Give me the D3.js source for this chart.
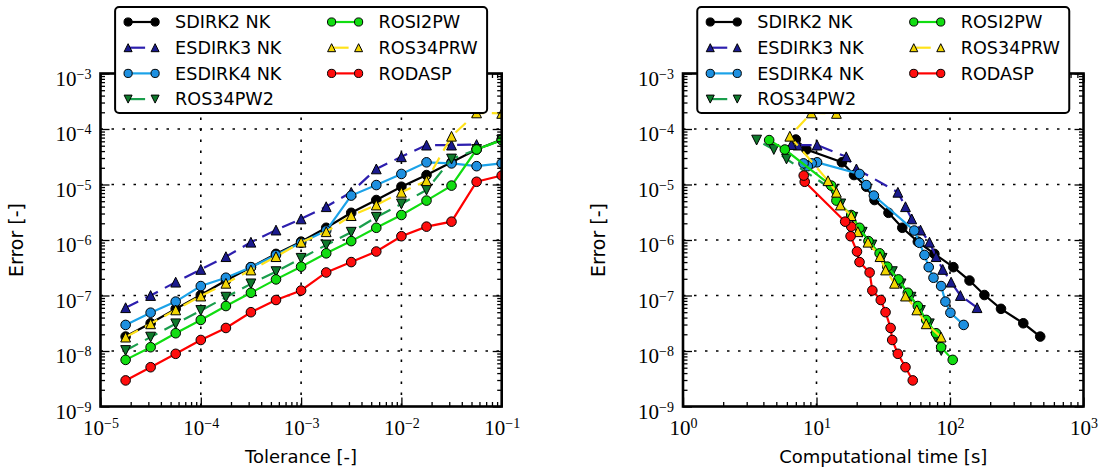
<!DOCTYPE html>
<html><head><meta charset="utf-8">
<script src="https://cdn.jsdelivr.net/npm/d3@7"></script>
<style>body{margin:0;background:#fff}</style>
</head><body><svg id="c" width="1104" height="473"></svg>
<script>
// ---------- DATA ----------
const seriesNames = ["SDIRK2 NK","ESDIRK3 NK","ESDIRK4 NK","ROS34PW2","ROSI2PW","ROS34PRW","RODASP"];
const tolerance = [1.78e-5,3.16e-5,5.62e-5,1e-4,1.78e-4,3.16e-4,5.62e-4,1e-3,1.78e-3,3.16e-3,5.62e-3,1e-2,1.78e-2,3.16e-2,5.62e-2,1e-1];

const sdirk2Err  = [1.82e-8,3.16e-8,5.75e-8,1.02e-7,1.86e-7,3.24e-7,5.62e-7,9.33e-7,1.66e-6,3.09e-6,5.25e-6,9.12e-6,1.48e-5,2.51e-5,4.27e-5,6.46e-5];
const sdirk2Time = [474,354,241,181,140,106,76.4,57.4,43.9,34.6,27.2,23.6,19.1,15.5,8.4,7.0];

const esdirk3Err  = [6.03e-8,1.0e-7,1.74e-7,2.95e-7,5.01e-7,9.12e-7,1.51e-6,2.40e-6,3.98e-6,7.24e-6,1.91e-5,3.16e-5,5.13e-5,5.13e-5,5.25e-5];
const esdirk3Time = [159.5,119.6,101.9,88.2,78.7,70.2,60.1,51.7,46.4,40.7,19.9,16.7,10.1,7.27,6.49];

const esdirk4Err  = [2.95e-8,4.90e-8,7.76e-8,1.48e-7,2.09e-7,3.24e-7,5.37e-7,8.91e-7,1.48e-6,6.31e-6,9.77e-6,1.55e-5,2.51e-5,2.40e-5,2.14e-5,2.40e-5];
const esdirk4Time = [126.6,100.7,92.4,85.8,75.2,69.3,64.4,59.0,54.0,26.9,23.6,21.0,10.1,9.2,8.6,8.0];

const ros34pw2Err  = [1.02e-8,1.78e-8,3.09e-8,5.37e-8,9.33e-8,1.62e-7,2.69e-7,4.68e-7,8.13e-7,1.38e-6,2.57e-6,4.47e-6,7.94e-6,2.88e-5,4.27e-5,6.31e-5];
const ros34pw2Time = [86,78,70,60,51,43,37,31,26,22,18.7,15.2,13.3,5.96,4.79,3.56];

const rosi2pwErr  = [6.92e-9,1.17e-8,2.09e-8,3.63e-8,6.46e-8,1.12e-7,1.95e-7,3.31e-7,5.75e-7,9.55e-7,1.66e-6,2.82e-6,5.13e-6,9.55e-6,4.27e-5,6.31e-5];
const rosi2pwTime = [104.8,85.8,78.7,66.3,57.4,48.3,41.1,33.9,29.7,24.5,21.0,18.2,14.1,12.9,5.79,4.42];

const ros34prwErr  = [1.78e-8,3.09e-8,5.50e-8,9.77e-8,1.66e-7,2.88e-7,5.01e-7,9.12e-7,1.41e-6,2.75e-6,4.27e-6,7.24e-6,1.17e-5,7.41e-5,1.95e-4,1.91e-4];
const ros34prwTime = [85.8,66.3,56.4,46.4,38.4,32.9,29.9,24.3,20.4,18.2,15.1,14.1,12.2,6.31,9.16,14.1];

const rodaspErr  = [2.95e-9,5.1e-9,8.9e-9,1.58e-8,2.6e-8,5.0e-8,8.3e-8,1.23e-7,2.6e-7,4.0e-7,6.2e-7,1.17e-6,1.74e-6,2.14e-6,1.12e-5,1.45e-5];
const rodaspTime = [52.6,46.4,40.7,36.9,35.9,32.9,30.3,26.2,25.0,21.0,20.1,18.0,18.2,16.4,8.16,8.02];

const yTicks = [1e-9,1e-8,1e-7,1e-6,1e-5,1e-4,1e-3];
const tolTicks = [1e-5,1e-4,1e-3,1e-2,1e-1];
const timeTicks = [1,10,100,1000];

// ---------- STYLE ----------
const styles = [
  {line:"#000000", fill:"#000000", marker:"o", dash:null},
  {line:"#2d1fae", fill:"#1a1a8e", marker:"^", dash:"14,8"},
  {line:"#1ba2e8", fill:"#1e90e0", marker:"o", dash:null},
  {line:"#1a9e4c", fill:"#0f7a2c", marker:"v", dash:"14,8"},
  {line:"#11dd11", fill:"#11dd11", marker:"o", dash:null},
  {line:"#ffe21a", fill:"#f2d500", marker:"^", dash:"14,8"},
  {line:"#ff0000", fill:"#ff0d0d", marker:"o", dash:null}
];
const errs = [sdirk2Err,esdirk3Err,esdirk4Err,ros34pw2Err,rosi2pwErr,ros34prwErr,rodaspErr];
const times = [sdirk2Time,esdirk3Time,esdirk4Time,ros34pw2Time,rosi2pwTime,ros34prwTime,rodaspTime];
const series = seriesNames.map((n,i)=>({name:n, err:errs[i], time:times[i], ...styles[i]}));

const svg = d3.select("#c");
const yTop = 73.5, yBot = 406.5;
const y = d3.scaleLog().domain([1e-9,1e-3]).range([yBot, yTop]);

function minorTicks(domain){
  const out=[]; const a=Math.round(Math.log10(domain[0])), b=Math.round(Math.log10(domain[1]));
  for(let e=a;e<b;e++) for(let m=2;m<=9;m++) out.push(m*Math.pow(10,e));
  return out;
}
function markerPath(type, s){
  const h=s/2;
  if(type==="^") return `M0,${-h}L${h},${h}L${-h},${h}Z`;
  if(type==="v") return `M0,${h}L${h},${-h}L${-h},${-h}Z`;
  return null;
}
function drawMarker(g, type, cx, cy, fill, r, s){
  if(type==="o") g.append("circle").attr("cx",cx).attr("cy",cy).attr("r",r)
      .attr("fill",fill).attr("stroke","#000").attr("stroke-width",1);
  else g.append("path").attr("d",markerPath(type,s)).attr("transform",`translate(${cx},${cy})`)
      .attr("fill",fill).attr("stroke","#000").attr("stroke-width",1);
}
function supLabel(sel, v){
  const e = Math.round(Math.log10(v));
  sel.text(null);
  sel.append("tspan").text("10");
  sel.append("tspan").attr("dy","-0.5em").attr("font-size","14px").text(e<0?"\u2212"+(-e):String(e));
}

function panel(idx, x0, x1, domain, xTicks, key, xlabel){
  const x = d3.scaleLog().domain(domain).range([x0,x1]);
  const g = svg.append("g");
  const clipId = "clip"+idx;
  svg.append("clipPath").attr("id",clipId).append("rect")
    .attr("x",x0).attr("y",yTop).attr("width",x1-x0).attr("height",yBot-yTop);

  // grid
  const grid = g.append("g").attr("stroke","#000").attr("stroke-width",1.6).attr("stroke-dasharray","2.5,8.5");
  xTicks.slice(1,-1).forEach(v=>grid.append("line").attr("x1",x(v)).attr("x2",x(v)).attr("y1",yTop).attr("y2",yBot));
  yTicks.slice(1,-1).forEach(v=>grid.append("line").attr("x1",x0).attr("x2",x1).attr("y1",y(v)).attr("y2",y(v)));

  // data
  const dg = g.append("g").attr("clip-path",`url(#${clipId})`);
  series.forEach(s=>{
    const pts = s.err.map((e,i)=>({x: key==="tol"? tolerance[i] : s.time[i], y:e}));
    dg.append("path").datum(pts)
      .attr("d", d3.line().x(d=>x(d.x)).y(d=>y(d.y)))
      .attr("fill","none").attr("stroke",s.line).attr("stroke-width",2.2)
      .attr("stroke-dasharray", s.dash);
    const mg = dg.append("g");
    pts.forEach(p=>drawMarker(mg, s.marker, x(p.x), y(p.y), s.fill, 4.8, 9.8));
  });

  // axes (ticks inside)
  const fontT = "Liberation Serif, serif";
  const ax = (gen, tr)=> g.append("g").attr("transform",tr).call(gen);
  const styleAxis = a=>{ a.select(".domain").remove(); a.selectAll("line").attr("stroke","#000").attr("stroke-width",1.3); };
  let a = ax(d3.axisBottom(x).tickValues(xTicks).tickSize(-9).tickPadding(14), `translate(0,${yBot})`);
  styleAxis(a);
  a.selectAll("text").attr("font-family",fontT).attr("font-size","21px").attr("fill","#000").each(function(v){supLabel(d3.select(this),v);});
  a = ax(d3.axisBottom(x).tickValues(minorTicks(domain)).tickSize(-4.5).tickFormat(""), `translate(0,${yBot})`); styleAxis(a);
  a = ax(d3.axisTop(x).tickValues(xTicks).tickSize(-9).tickFormat(""), `translate(0,${yTop})`); styleAxis(a);
  a = ax(d3.axisTop(x).tickValues(minorTicks(domain)).tickSize(-4.5).tickFormat(""), `translate(0,${yTop})`); styleAxis(a);
  a = ax(d3.axisLeft(y).tickValues(yTicks).tickSize(-9).tickPadding(9), `translate(${x0},0)`);
  styleAxis(a);
  a.selectAll("text").attr("font-family",fontT).attr("font-size","21px").attr("fill","#000").attr("dy","0.55em").each(function(v){supLabel(d3.select(this),v);});
  a = ax(d3.axisLeft(y).tickValues(minorTicks([1e-9,1e-3])).tickSize(-4.5).tickFormat(""), `translate(${x0},0)`); styleAxis(a);
  a = ax(d3.axisRight(y).tickValues(yTicks).tickSize(-9).tickFormat(""), `translate(${x1},0)`); styleAxis(a);
  a = ax(d3.axisRight(y).tickValues(minorTicks([1e-9,1e-3])).tickSize(-4.5).tickFormat(""), `translate(${x1},0)`); styleAxis(a);

  // frame
  g.append("rect").attr("x",x0).attr("y",yTop).attr("width",x1-x0).attr("height",yBot-yTop)
    .attr("fill","none").attr("stroke","#000").attr("stroke-width",2.6);

  // axis labels
  const fontL = "DejaVu Sans, sans-serif";
  g.append("text").attr("x",(x0+x1)/2).attr("y",463).attr("text-anchor","middle")
    .attr("font-family",fontL).attr("font-size","18px").text(xlabel);
  g.append("text").attr("transform",`translate(${x0-78},${(yTop+yBot)/2}) rotate(-90)`)
    .attr("text-anchor","middle").attr("font-family",fontL).attr("font-size","19px").text("Error [-]");

  // legend
  const lw=372, lx=(x0+x1)/2-lw/2, ly=7, lh=106;
  const lg = svg.append("g").attr("transform",`translate(${lx},${ly})`);
  lg.append("rect").attr("width",lw).attr("height",lh).attr("rx",4).attr("ry",4)
    .attr("fill","#fff").attr("stroke","#000").attr("stroke-width",2);
  series.forEach((s,i)=>{
    const col = i<4?0:1, row = i<4?i:i-4;
    const bx = col===0?13:216.5, cy = 15+row*25.7;
    lg.append("line").attr("x1",bx).attr("x2",bx+27).attr("y1",cy).attr("y2",cy)
      .attr("stroke",s.line).attr("stroke-width",2.2).attr("stroke-dasharray", s.dash?"17,30":null);
    drawMarker(lg, s.marker, bx, cy, s.fill, 4.1, 8);
    drawMarker(lg, s.marker, bx+27, cy, s.fill, 4.1, 8);
    lg.append("text").attr("x",bx+47).attr("y",cy).attr("dy","0.36em")
      .attr("font-family",fontL).attr("font-size","17.6px").attr("fill","#000").text(s.name);
  });
}

panel(0, 100.5, 501.7, [1e-5,1e-1], tolTicks, "tol", "Tolerance [-]");
panel(1, 683, 1083.5, [1,1000], timeTicks, "time", "Computational time [s]");
</script>
</body></html>
